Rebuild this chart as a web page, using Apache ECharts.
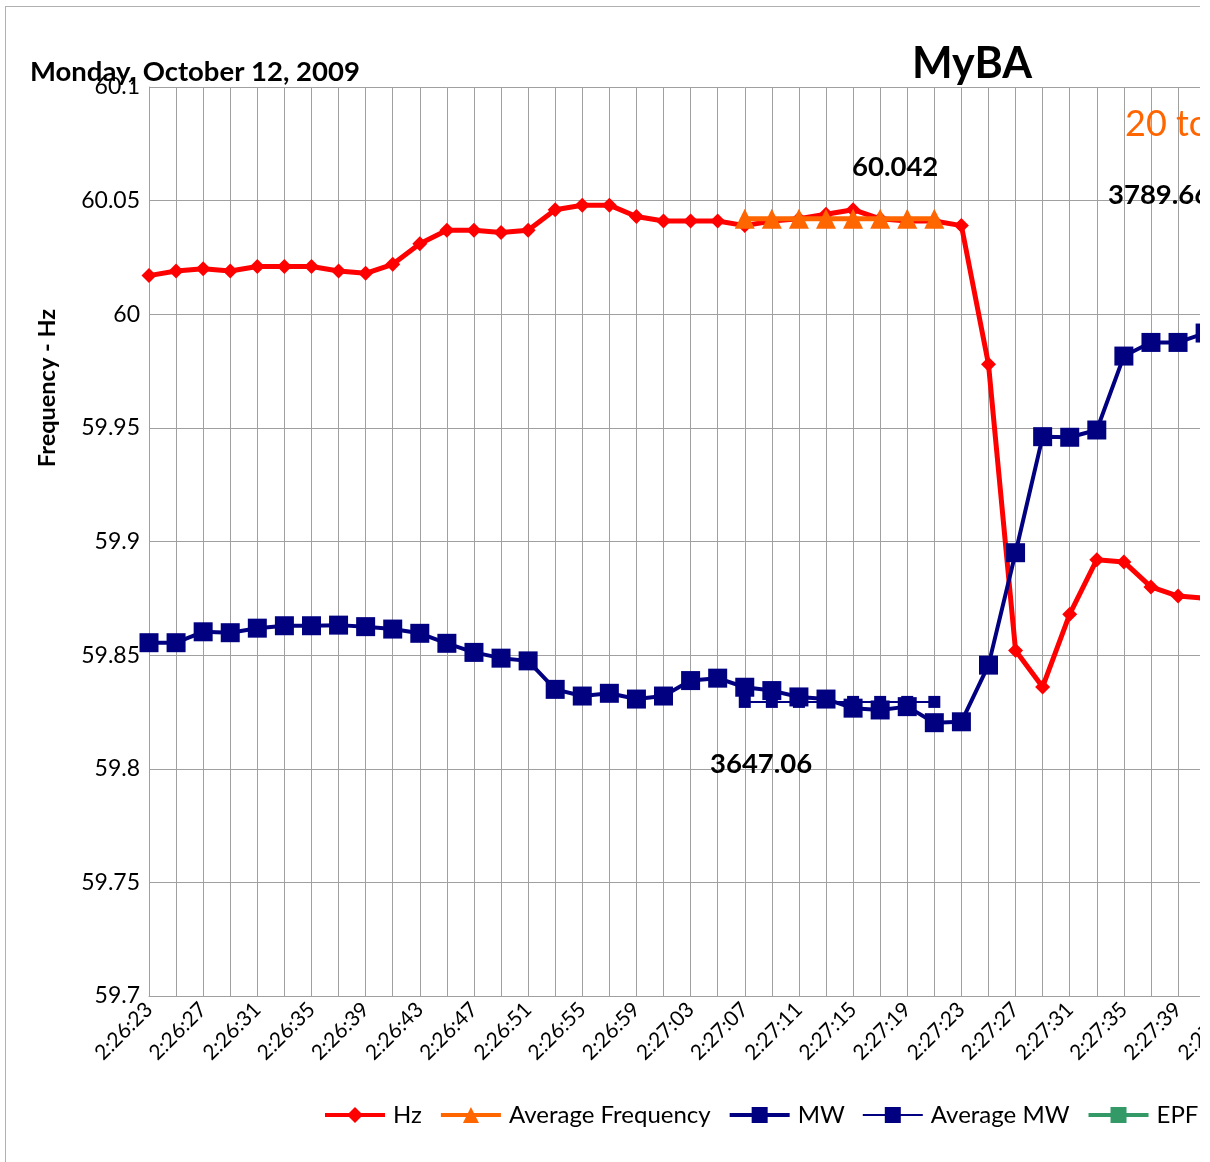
<!DOCTYPE html>
<html>
<head>
<meta charset="utf-8">
<script src="https://cdn.jsdelivr.net/npm/echarts@6/dist/echarts.min.js"></script>
<style>
html,body{margin:0;padding:0;background:#fff;overflow:hidden;}
#clip{position:absolute;left:0;top:0;width:1200px;height:1162px;overflow:hidden;background:#fff;}
#frame{position:absolute;left:5px;top:6px;width:1700px;height:1400px;border:1px solid #b0b0b0;box-sizing:border-box;}
#chart{position:absolute;left:0;top:0;width:1500px;height:1162px;}
</style>
</head>
<body>
<div id="clip">
  <div id="frame"></div>
  <div id="chart"></div>
</div>
<script>
// ---- data ----
const times = ["2:26:23","2:26:25","2:26:27","2:26:29","2:26:31","2:26:33","2:26:35","2:26:37","2:26:39","2:26:41",
  "2:26:43","2:26:45","2:26:47","2:26:49","2:26:51","2:26:53","2:26:55","2:26:57","2:26:59","2:27:01",
  "2:27:03","2:27:05","2:27:07","2:27:09","2:27:11","2:27:13","2:27:15","2:27:17","2:27:19","2:27:21",
  "2:27:23","2:27:25","2:27:27","2:27:29","2:27:31","2:27:33","2:27:35","2:27:37","2:27:39","2:27:41",
  "2:27:43","2:27:45","2:27:47","2:27:49","2:27:51"];
const hz = [60.017,60.019,60.020,60.019,60.021,60.021,60.021,60.019,60.018,60.022,
  60.031,60.037,60.037,60.036,60.037,60.046,60.048,60.048,60.043,60.041,
  60.041,60.041,60.039,60.041,60.042,60.044,60.046,60.042,60.041,60.041,
  60.039,59.978,59.852,59.836,59.868,59.892,59.891,59.880,59.876,59.875,
  null,null,null,null,null];
const avgFreq = [null,null,null,null,null,null,null,null,null,null,
  null,null,null,null,null,null,null,null,null,null,
  null,null,60.042,60.042,60.042,60.042,60.042,60.042,60.042,60.042,
  null,null,null,null,null,null,null,null,null,null,
  null,null,null,null,null];
const mw = [3666.6,3666.6,3670.2,3669.9,3671.4,3672.2,3672.2,3672.4,3671.9,3671.1,
  3669.7,3666.4,3663.4,3661.5,3660.6,3651.2,3649.0,3649.9,3648.0,3649.0,
  3654.1,3654.9,3651.9,3650.8,3648.7,3648.0,3645.0,3644.4,3645.5,3640.2,
  3640.5,3659.2,3696.3,3734.6,3734.4,3736.8,3761.2,3765.7,3765.7,3768.8,
  null,null,null,null,null];
const avgMw = [null,null,null,null,null,null,null,null,null,null,
  null,null,null,null,null,null,null,null,null,null,
  null,null,3647.06,3647.06,3647.06,3647.06,3647.06,3647.06,3647.06,3647.06,
  null,null,null,null,null,null,null,null,null,null,
  null,null,null,null,null];
const epfr = [];
const seriesNames = ["Hz","Average Frequency","MW","Average MW","EPFR"];
const titleText = "MyBA";
const dateText = "Monday, October 12, 2009";
const noteText = "20 to 52 seconds";
const yTitle = "Frequency - Hz";
const annotFreq = "60.042";
const annotMwLow = "3647.06";
const annotMwHigh = "3789.66";

// ---- chart ----
const FONT = 'Lato, "Noto Sans", sans-serif';
const chart = echarts.init(document.getElementById('chart'), null, {renderer:'canvas'});
const gridLine = '#a0a0a0';
chart.setOption({
  animation:false,
  textStyle:{fontFamily:FONT},
  grid:{left:149, top:87, height:909, width:44*27.08, containLabel:false},
  xAxis:{
    type:'category', data:times, boundaryGap:false,
    axisLine:{lineStyle:{color:gridLine,width:1}},
    axisTick:{show:false},
    axisLabel:{interval:1, rotate:45, fontSize:21, color:'#000', fontFamily:FONT, margin:10},
    splitLine:{show:true, interval:0, lineStyle:{color:gridLine,width:1}}
  },
  yAxis:[{
    type:'value', min:59.7, max:60.1, interval:0.05,
    axisLine:{show:true, lineStyle:{color:gridLine,width:1}},
    axisTick:{show:false},
    axisLabel:{fontSize:23, color:'#000', fontFamily:FONT, margin:9,
      formatter:v=>String(+(+v).toFixed(2))},
    splitLine:{show:true, lineStyle:{color:gridLine,width:1}}
  },{
    type:'value', min:3550, max:3850, show:false, splitLine:{show:false}, alignTicks:false
  }],
  legend:{
    left:323, top:1103, padding:0, itemWidth:60, itemHeight:20, itemGap:17,
    textStyle:{fontSize:24, color:'#000', fontFamily:FONT, padding:[0,0,0,3]},
    data:[
      {name:seriesNames[0], lineStyle:{width:4}},
      {name:seriesNames[1], lineStyle:{width:4}},
      {name:seriesNames[2], lineStyle:{width:4}},
      {name:seriesNames[3], lineStyle:{width:2}},
      {name:seriesNames[4], lineStyle:{width:4}}
    ]
  },
  series:[
    {name:seriesNames[0], type:'line', data:hz, yAxisIndex:0,
      lineStyle:{color:'#ff0000', width:5}, itemStyle:{color:'#ff0000'},
      symbol:'diamond', symbolSize:15, showSymbol:true, showAllSymbol:true, z:2},
    {name:seriesNames[1], type:'line', data:avgFreq, yAxisIndex:0,
      lineStyle:{color:'#ff6600', width:5}, itemStyle:{color:'#ff6600'},
      symbol:'triangle', symbolSize:20, showAllSymbol:true, z:3},
    {name:seriesNames[2], type:'line', data:mw, yAxisIndex:1,
      lineStyle:{color:'#000080', width:4}, itemStyle:{color:'#000080'},
      symbol:'rect', symbolSize:19, showAllSymbol:true, z:4},
    {name:seriesNames[3], type:'line', data:avgMw, yAxisIndex:1,
      lineStyle:{color:'#000080', width:2}, itemStyle:{color:'#000080'},
      symbol:'rect', symbolSize:12, showAllSymbol:true, z:5},
    {name:seriesNames[4], type:'line', data:epfr, yAxisIndex:1,
      lineStyle:{color:'#339966', width:5}, itemStyle:{color:'#339966'},
      symbol:'rect', symbolSize:16, showAllSymbol:true, z:6}
  ],
  graphic:[
    {type:'text', z:100, x:30, y:72, style:{text:dateText, font:'bold 27.5px '+FONT, fill:'#000', textVerticalAlign:'middle'}},
    {type:'text', z:100, x:972, y:64, style:{text:titleText, font:'bold 43px '+FONT, fill:'#000', textAlign:'center', textVerticalAlign:'middle'}},
    {type:'text', z:100, x:1125, y:124, style:{text:noteText, font:'36px '+FONT, fill:'#ff6600', textAlign:'left', textVerticalAlign:'middle'}},
    {type:'text', z:100, x:852, y:167, style:{text:annotFreq, font:'bold 27.5px '+FONT, fill:'#000', textAlign:'left', textVerticalAlign:'middle'}},
    {type:'text', z:100, x:1108, y:195, style:{text:annotMwHigh, font:'bold 27.5px '+FONT, fill:'#000', textAlign:'left', textVerticalAlign:'middle'}},
    {type:'text', z:100, x:710, y:764, style:{text:annotMwLow, font:'bold 27.5px '+FONT, fill:'#000', textAlign:'left', textVerticalAlign:'middle'}},
    {type:'text', z:100, x:47, y:388, rotation:Math.PI/2, style:{text:yTitle, font:'bold 23.5px '+FONT, fill:'#000', textAlign:'center', textVerticalAlign:'middle'}}
  ]
});
</script>
</body>
</html>
